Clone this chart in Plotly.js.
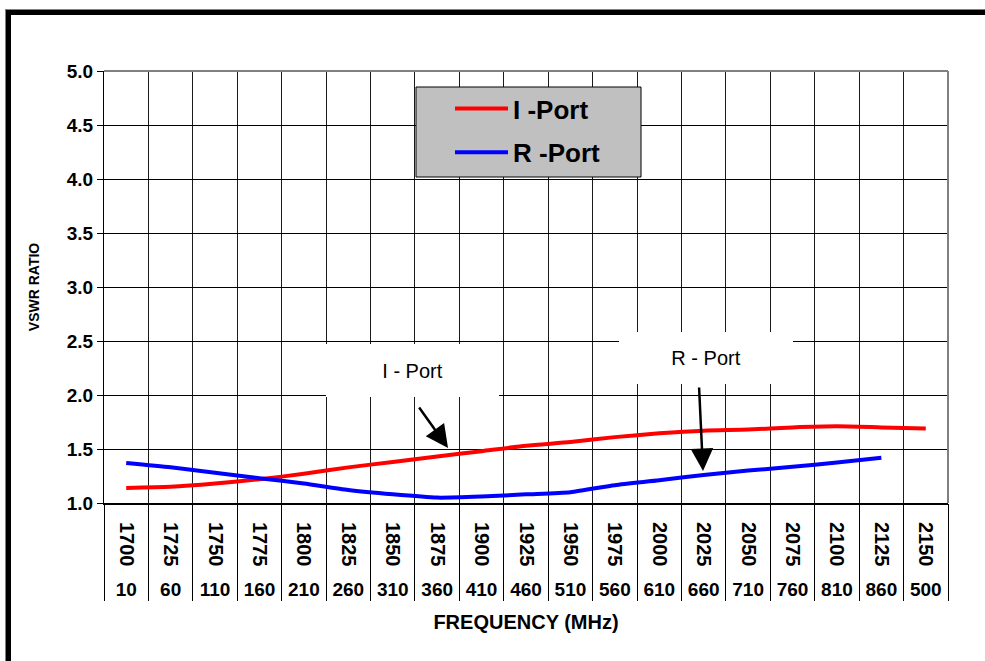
<!DOCTYPE html>
<html>
<head>
<meta charset="utf-8">
<script src="https://cdn.plot.ly/plotly-3.0.1.min.js"></script>
<style>
  html, body { margin: 0; padding: 0; background: #fff; overflow: hidden; }
  #chart { position: absolute; left: 0; top: 0; width: 985px; height: 661px; }
  #frame { position: absolute; left: 6px; top: 10px; width: 1200px; height: 900px;
           border-top: 5px solid #000; border-left: 5px solid #000;
           box-shadow: -1px -1px 0 #808080; pointer-events: none; }
</style>
</head>
<body>
<div id="chart"></div>
<div id="frame"></div>
<script>
// ---- data ----
const freqLabels = ['1700','1725','1750','1775','1800','1825','1850','1875','1900','1925',
                    '1950','1975','2000','2025','2050','2075','2100','2125','2150'];
const bandLabels = ['10','60','110','160','210','260','310','360','410','460',
                    '510','560','610','660','710','760','810','860','500'];
const iPortVswr = [1.14,1.15,1.18,1.22,1.27,1.33,1.38,1.43,1.48,1.53,
                   1.565,1.61,1.645,1.67,1.68,1.70,1.71,1.70,1.69];
const rPortVswr = [1.37,1.33,1.28,1.23,1.18,1.12,1.08,1.05,1.06,1.08,
                   1.10,1.165,1.21,1.26,1.30,1.335,1.375,1.42,null];
const seriesNames = ['I -Port', 'R -Port'];
const calloutTexts = ['I - Port', 'R - Port'];

// ---- geometry helpers (plot area in px) ----
const W = 985, H = 661;
const M = {l: 104, r: 37, t: 71, b: 158};
const PW = W - M.l - M.r, PH = H - M.t - M.b;
const px2fx = x => (x - M.l) / PW;
const py2fy = y => (H - M.b - y) / PH;

const n = freqLabels.length;
const idx = freqLabels.map((_, i) => i);
const blanks = freqLabels.map(() => null);
const bounds = [];
for (let i = 0; i <= n; i++) bounds.push(i - 0.5);

const FONT = 'Arial, "Liberation Sans", Helvetica, sans-serif';

const traces = [
  {x: freqLabels, y: iPortVswr, name: seriesNames[0], type: 'scatter', mode: 'lines',
   line: {color: '#ff0000', width: 4, shape: 'spline', smoothing: 0.6},
   legendgroup: 'a', hoverinfo: 'x+y+name'},
  {x: freqLabels, y: rPortVswr, name: seriesNames[1], type: 'scatter', mode: 'lines',
   line: {color: '#0000ff', width: 4, shape: 'spline', smoothing: 0.6},
   legendgroup: 'b', connectgaps: false, hoverinfo: 'x+y+name'},
  // invisible carriers so the two label/divider axes get drawn
  {x: idx, y: blanks, xaxis: 'x2', yaxis: 'y', type: 'scatter', mode: 'lines',
   showlegend: false, hoverinfo: 'skip'},
  {x: idx, y: blanks, xaxis: 'x3', yaxis: 'y', type: 'scatter', mode: 'lines',
   showlegend: false, hoverinfo: 'skip'}
];

const layout = {
  width: W, height: H,
  margin: M,
  paper_bgcolor: '#ffffff', plot_bgcolor: '#ffffff',
  font: {family: FONT, color: '#000'},
  showlegend: true,
  legend: {
    x: px2fx(450), y: py2fy(85), xanchor: 'left', yanchor: 'top',
    bgcolor: 'rgba(0,0,0,0)', borderwidth: 0,
    font: {family: FONT, size: 26, weight: 'bold', color: '#000'},
    itemwidth: 53, traceorder: 'grouped', tracegroupgap: 7
  },
  xaxis: {
    type: 'category', categoryorder: 'array', categoryarray: freqLabels,
    range: [-0.5, n - 0.5], tickson: 'boundaries',
    showgrid: true, gridcolor: '#1a1a1a', gridwidth: 1,
    ticks: '', ticklabelstandoff: 13,
    tickangle: 90,
    tickfont: {family: FONT, size: 20, weight: 'bold', color: '#000'},
    showline: true, linecolor: '#000', linewidth: 2,
    zeroline: false, fixedrange: true
  },
  xaxis2: {
    overlaying: 'x', anchor: 'y', side: 'bottom', type: 'linear',
    range: [-0.5, n - 0.5], tickmode: 'array', tickvals: bounds,
    ticks: 'outside', ticklen: 97, tickwidth: 1, tickcolor: '#000',
    showticklabels: false, showgrid: false, showline: false, zeroline: false
  },
  xaxis3: {
    overlaying: 'x', anchor: 'y', side: 'bottom', type: 'linear',
    range: [-0.5, n - 0.5], tickmode: 'array', tickvals: idx, ticktext: bandLabels,
    ticks: 'outside', ticklen: 69, tickcolor: 'rgba(0,0,0,0)',
    tickfont: {family: FONT, size: 19, weight: 'bold', color: '#000'},
    showgrid: false, showline: false, zeroline: false,
    title: {text: 'FREQUENCY (MHz)', standoff: 16,
            font: {family: FONT, size: 20, weight: 'bold', color: '#000'}}
  },
  yaxis: {
    range: [1, 5], dtick: 0.5, tick0: 1, tickformat: '.1f',
    showgrid: true, gridcolor: '#000', gridwidth: 1,
    ticks: 'outside', ticklen: 6, tickcolor: '#000',
    tickfont: {family: FONT, size: 19, weight: 'bold', color: '#000'},
    showline: true, linecolor: '#000', linewidth: 1,
    zeroline: false, fixedrange: true,
    title: {text: 'VSWR RATIO', standoff: 23,
            font: {family: FONT, size: 14, weight: 'bold', color: '#000'}}
  },
  shapes: [
    {type: 'line', xref: 'paper', yref: 'paper', x0: 0, x1: 1, y0: 1, y1: 1,
     line: {color: '#808080', width: 2}},
    {type: 'line', xref: 'paper', yref: 'paper', x0: 1, x1: 1, y0: 0, y1: 1,
     line: {color: '#808080', width: 2}},
    {type: 'rect', xref: 'paper', yref: 'paper', layer: 'above',
     x0: px2fx(416), x1: px2fx(641), y0: py2fy(177), y1: py2fy(87),
     fillcolor: '#c0c0c0', line: {color: '#000', width: 1}}
  ],
  annotations: [
    {xref: 'x', yref: 'y', x: 6.45, y: 2.227, text: calloutTexts[0], showarrow: false,
     width: 171, height: 51, bgcolor: '#ffffff', borderwidth: 0,
     font: {family: FONT, size: 20, color: '#000'}},
    {xref: 'x', yref: 'y', x: 13.05, y: 2.343, text: calloutTexts[1], showarrow: false,
     width: 172, height: 50, bgcolor: '#ffffff', borderwidth: 0,
     font: {family: FONT, size: 20, color: '#000'}},
    {xref: 'x', yref: 'y', axref: 'x', ayref: 'y',
     x: 7.245, y: 1.51, ax: 6.57, ay: 1.898, text: '', showarrow: true,
     arrowhead: 2, arrowsize: 1.8, arrowwidth: 2.5, arrowcolor: '#000', standoff: 0},
    {xref: 'x', yref: 'y', axref: 'x', ayref: 'y',
     x: 12.985, y: 1.296, ax: 12.895, ay: 2.083, text: '', showarrow: true,
     arrowhead: 2, arrowsize: 1.8, arrowwidth: 2.5, arrowcolor: '#000', standoff: 0}
  ]
};

Plotly.newPlot('chart', traces, layout, {displayModeBar: false, staticPlot: true});
</script>
</body>
</html>
